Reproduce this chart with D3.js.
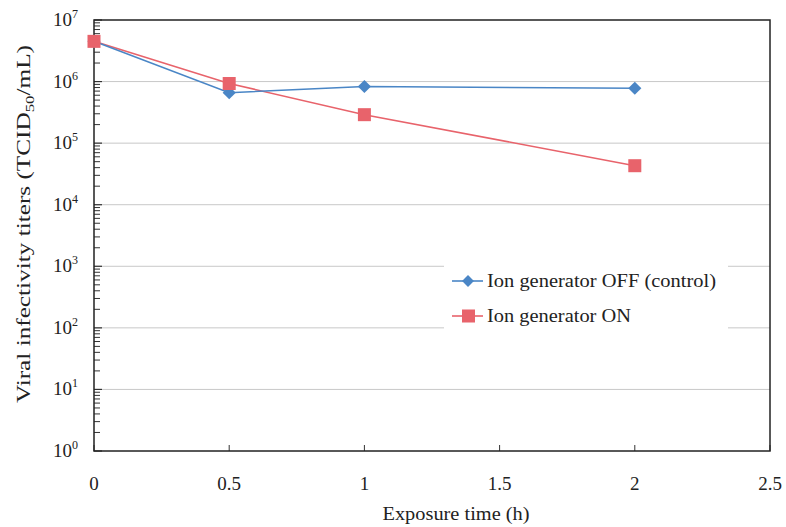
<!DOCTYPE html>
<html><head><meta charset="utf-8">
<script src="https://cdn.jsdelivr.net/npm/d3@7"></script>
<style>body{margin:0;background:#fff}svg{display:block}text{font-family:"Liberation Serif","Times New Roman",serif;fill:#222}</style>
</head><body>
<svg id="c" width="786" height="527"></svg>
<script>
const times = [0, 0.5, 1, 2];
const offValues = [4.5e6, 6.6e5, 8.3e5, 7.8e5];
const onValues = [4.5e6, 9.3e5, 2.9e5, 4.3e4];
const seriesNames = ["Ion generator OFF (control)", "Ion generator ON"];
const xTicks = [0, 0.5, 1, 1.5, 2, 2.5];
const yExponents = [0,1,2,3,4,5,6,7];

const svg = d3.select("#c");
const L=94, R=770, T=20, B=451;
const x = d3.scaleLinear().domain([0,2.5]).range([L,R]);
const y = d3.scaleLog().domain([1,1e7]).range([B,T]);

// gridlines
svg.append("g").selectAll("line").data(yExponents.slice(1,7)).join("line")
  .attr("x1",L).attr("x2",R).attr("y1",d=>y(Math.pow(10,d))).attr("y2",d=>y(Math.pow(10,d)))
  .attr("stroke","#c8c8c8").attr("stroke-width",1);

// y axis ticks (inside)
const minor=[];
for(let e=0;e<7;e++) for(let m=2;m<=9;m++) minor.push(m*Math.pow(10,e));
svg.append("g").selectAll("line").data(minor).join("line")
  .attr("x1",L).attr("x2",L+6).attr("y1",d=>y(d)).attr("y2",d=>y(d)).attr("stroke","#333").attr("stroke-width",1);
svg.append("g").selectAll("line").data(yExponents).join("line")
  .attr("x1",L).attr("x2",L+8).attr("y1",d=>y(Math.pow(10,d))).attr("y2",d=>y(Math.pow(10,d))).attr("stroke","#333").attr("stroke-width",1.2);
// x ticks (inside)
svg.append("g").selectAll("line").data(xTicks).join("line")
  .attr("x1",d=>x(d)).attr("x2",d=>x(d)).attr("y1",B).attr("y2",B-6).attr("stroke","#333").attr("stroke-width",1);

// frame
svg.append("rect").attr("x",L).attr("y",T).attr("width",R-L).attr("height",B-T)
  .attr("fill","none").attr("stroke","#222").attr("stroke-width",1.5);

// y tick labels
const yl = svg.append("g").selectAll("text").data(yExponents).join("text")
  .attr("x",L-16).attr("y",d=>y(Math.pow(10,d))+6).attr("text-anchor","end").attr("font-size",19);
yl.append("tspan").text("10");
yl.append("tspan").attr("dy",-8).attr("font-size",12).text(d=>d);

// x tick labels
svg.append("g").selectAll("text").data(xTicks).join("text")
  .attr("x",d=>x(d)).attr("y",490).attr("text-anchor","middle").attr("font-size",19).text(d=>d);

svg.append("text").attr("x",456).attr("y",520).attr("text-anchor","middle").attr("font-size",18)
  .attr("textLength",147).attr("lengthAdjust","spacingAndGlyphs").text("Exposure time (h)");

const ylab = svg.append("text").attr("transform","translate(30,224) rotate(-90)").attr("text-anchor","middle").attr("font-size",18)
  .attr("textLength",358).attr("lengthAdjust","spacingAndGlyphs");
ylab.append("tspan").text("Viral infectivity titers (TCID");
ylab.append("tspan").attr("dy",4).attr("font-size",12).text("50");
ylab.append("tspan").attr("dy",-4).text("/mL)");

const blue="#4a86c6", red="#e8636b";
const line = d3.line().x((d,i)=>x(times[i])).y(d=>y(d));

// ON line first, then OFF
svg.append("path").attr("d",line(onValues)).attr("fill","none").attr("stroke",red).attr("stroke-width",1.6);
svg.append("path").attr("d",line(offValues)).attr("fill","none").attr("stroke",blue).attr("stroke-width",1.6);
svg.append("g").selectAll("path").data(offValues).join("path")
  .attr("d",d3.symbol(d3.symbolDiamond2,110)()).attr("transform",(d,i)=>`translate(${x(times[i])},${y(d)})`).attr("fill",blue);
svg.append("g").selectAll("rect").data(onValues).join("rect")
  .attr("x",(d,i)=>x(times[i])-6.5).attr("y",d=>y(d)-6.5).attr("width",13).attr("height",13).attr("fill",red);

// legend
const lg = svg.append("g");
lg.append("rect").attr("x",444).attr("y",262).attr("width",284).attr("height",72).attr("fill","#fff");
const items=[{n:seriesNames[0],c:blue,s:"d",yy:281,w:229},{n:seriesNames[1],c:red,s:"s",yy:316,w:144}];
items.forEach(it=>{
  lg.append("line").attr("x1",452).attr("x2",483).attr("y1",it.yy).attr("y2",it.yy).attr("stroke",it.c).attr("stroke-width",1.6);
  if(it.s==="d") lg.append("path").attr("d",d3.symbol(d3.symbolDiamond2,90)()).attr("transform",`translate(468,${it.yy})`).attr("fill",it.c);
  else lg.append("rect").attr("x",462).attr("y",it.yy-6.5).attr("width",13).attr("height",13).attr("fill",it.c);
  lg.append("text").attr("x",487).attr("y",it.yy+6).attr("font-size",18)
    .attr("textLength",it.w).attr("lengthAdjust","spacingAndGlyphs").text(it.n);
});
</script>
</body></html>
